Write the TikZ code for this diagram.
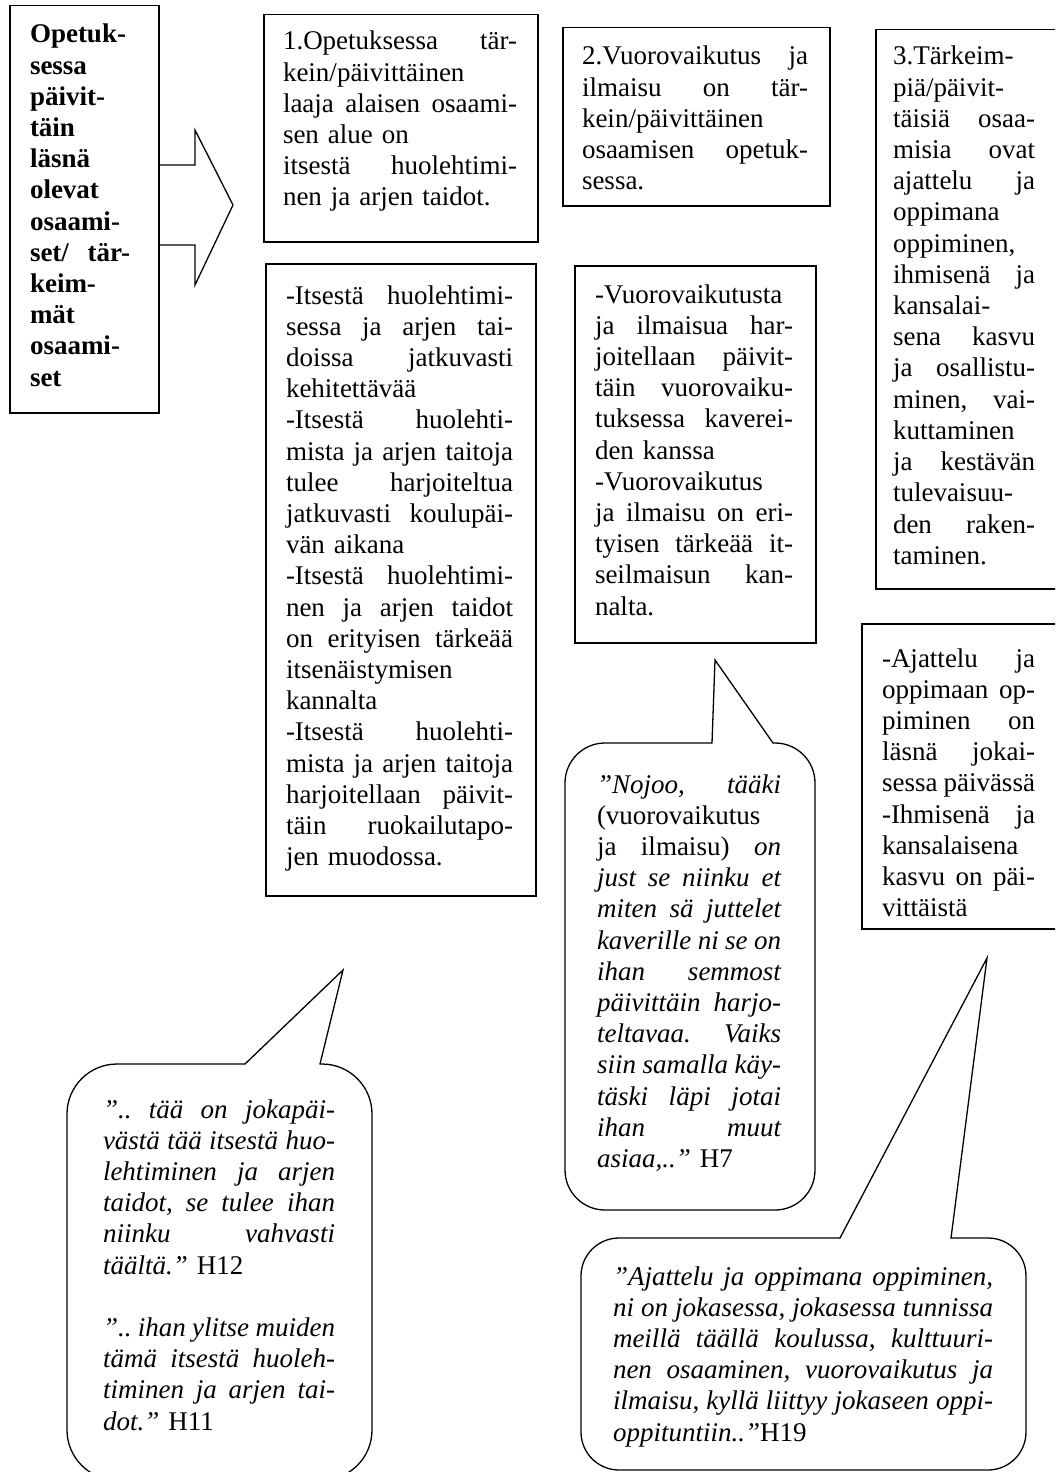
\documentclass[tikz,border=0pt]{standalone}
\usepackage{fontspec}
\setmainfont{Liberation Serif}
\newcommand\fs{\fontsize{27pt}{31.2pt}\selectfont}
\newdimen\TW
\newcommand\Jline[1]{\hbox to\TW{\spaceskip=.25em plus 1fil minus .05em\xspaceskip=\spaceskip #1}}
\newcommand\Lline[1]{\hbox to\TW{#1\hfil}}
\hbadness=10000
\hfuzz=20pt
\frenchspacing
\begin{document}
\begin{tikzpicture}[x=1pt,y=-1pt,
  frame/.style={draw, line width=1.5pt, inner sep=0pt, anchor=north west},
  txt/.style={inner sep=0pt, outer sep=0pt, anchor=base west, font=\fs},
  tw/.style={text width=#1, execute at begin node={\TW=#1\relax\frenchspacing}},
  bubble/.style={draw, line width=1.3pt, line cap=round, line join=miter}]
\useasboundingbox (0,0) rectangle (1055,1472);
\fill[white] (0,0) rectangle (1055,1472);
\clip (0,0) rectangle (1055,1472);

% ---- left bold box with arrow
\node[frame, minimum width=149pt, minimum height=407pt] (mainbox) at (9,5) {};
\node[txt, tw=100pt, font=\fs\bfseries] (maintext) at (30,43) {%
\Lline{Opetuk-}
\Lline{sessa}
\Lline{päivit-}
\Lline{täin}
\Lline{läsnä}
\Lline{olevat}
\Lline{osaami-}
\Jline{set/ tär-}
\Lline{keim-}
\Lline{mät}
\Lline{osaami-}
\Lline{set}};
\coordinate (arrtip) at (233,205);
\draw[line width=1.3pt, line join=miter] (158,165) -- (195,165) -- (195,130) -- (arrtip) -- (195,285) -- (195,245) -- (158,245);

% ---- box 1
\node[frame, minimum width=274pt, minimum height=227pt] (box1) at (263,14) {};
\node[txt, tw=234pt] (text1) at (283,50) {%
\Jline{1.Opetuksessa tär-}
\Lline{kein/päivittäinen}
\Jline{laaja alaisen osaami-}
\Lline{sen alue on}
\Jline{itsestä huolehtimi-}
\Lline{nen ja arjen taidot.}};

% ---- box 2
\node[frame, minimum width=267pt, minimum height=178pt] (box2) at (562,27) {};
\node[txt, tw=226pt] (text2) at (582,65) {%
\Jline{2.Vuorovaikutus ja}
\Jline{ilmaisu on tär-}
\Lline{kein/päivittäinen}
\Jline{osaamisen opetuk-}
\Lline{sessa.}};

% ---- box 3 (cut at right edge)
\node[frame, minimum width=200pt, minimum height=559pt] (box3) at (875,29) {};
\node[txt, tw=142pt] (text3) at (893,65) {%
\Lline{3.Tärkeim-}
\Lline{piä/päivit-}
\Jline{täisiä osaa-}
\Jline{misia ovat}
\Jline{ajattelu ja}
\Lline{oppimana}
\Lline{oppiminen,}
\Jline{ihmisenä ja}
\Lline{kansalai-}
\Jline{sena kasvu}
\Jline{ja osallistu-}
\Jline{minen, vai-}
\Lline{kuttaminen}
\Jline{ja kestävän}
\Lline{tulevaisuu-}
\Jline{den raken-}
\Lline{taminen.}};

% ---- box 4
\node[frame, minimum width=270pt, minimum height=632pt] (box4) at (265,263) {};
\node[txt, tw=227pt] (text4) at (286,304) {%
\Jline{-Itsestä huolehtimi-}
\Jline{sessa ja arjen tai-}
\Jline{doissa jatkuvasti}
\Lline{kehitettävää}
\Jline{-Itsestä huolehti-}
\Jline{mista ja arjen taitoja}
\Jline{tulee harjoiteltua}
\Jline{jatkuvasti koulupäi-}
\Lline{vän aikana}
\Jline{-Itsestä huolehtimi-}
\Jline{nen ja arjen taidot}
\Jline{on erityisen tärkeää}
\Lline{itsenäistymisen}
\Lline{kannalta}
\Jline{-Itsestä huolehti-}
\Jline{mista ja arjen taitoja}
\Jline{harjoitellaan päivit-}
\Jline{täin ruokailutapo-}
\Lline{jen muodossa.}};

% ---- box 5
\node[frame, minimum width=241pt, minimum height=377pt] (box5) at (574,265) {};
\node[txt, tw=198pt] (text5) at (595,303) {%
\Lline{-Vuorovaikutusta}
\Jline{ja ilmaisua har-}
\Jline{joitellaan päivit-}
\Jline{täin vuorovaiku-}
\Jline{tuksessa kaverei-}
\Lline{den kanssa}
\Lline{-Vuorovaikutus}
\Jline{ja ilmaisu on eri-}
\Jline{tyisen tärkeää it-}
\Jline{seilmaisun kan-}
\Lline{nalta.}};

% ---- box 6 (cut at right edge)
\node[frame, minimum width=210pt, minimum height=305pt] (box6) at (861,623) {};
\node[txt, tw=153pt] (text6) at (882,667) {%
\Jline{-Ajattelu ja}
\Jline{oppimaan op-}
\Jline{piminen on}
\Jline{läsnä jokai-}
\Jline{sessa päivässä}
\Jline{-Ihmisenä ja}
\Lline{kansalaisena}
\Jline{kasvu on päi-}
\Lline{vittäistä}};

% ---- callout H7
\coordinate (tip7) at (715,660);
\draw[bubble, rounded corners=40pt] (773,743) -- (815,743) -- (815,1210) -- (565,1210) -- (565,743) -- (712,743);
\draw[bubble] (712,743) -- (tip7) -- (773,743);
\node[txt, tw=184pt, font=\fs\itshape] (quote7) at (597,793) {%
\Jline{”Nojoo, tääki}
\Lline{\textup{(vuorovaikutus}}
\Jline{\textup{ja ilmaisu)} on}
\Jline{just se niinku et}
\Jline{miten sä juttelet}
\Jline{kaverille ni se on}
\Jline{ihan semmost}
\Jline{päivittäin harjo-}
\Jline{teltavaa. Vaiks}
\Jline{siin samalla käy-}
\Jline{täski läpi jotai}
\Jline{ihan muut}
\Lline{asiaa,..” \textup{H7}}};

% ---- callout H12 / H11 (cut at bottom edge)
\coordinate (tip12) at (343,970);
\draw[bubble, rounded corners=50pt] (320,1064) -- (372,1064) -- (372,1480) -- (67,1480) -- (67,1064) -- (245,1064);
\draw[bubble] (245,1064) -- (tip12) -- (320,1064);
\node[txt, tw=232pt, font=\fs\itshape] (quote12) at (103,1118) {%
\Jline{”.. tää on jokapäi-}
\Jline{västä tää itsestä huo-}
\Jline{lehtiminen ja arjen}
\Jline{taidot, se tulee ihan}
\Jline{niinku vahvasti}
\Lline{täältä.” \textup{H12}}
\Lline{}
\Jline{”.. ihan ylitse muiden}
\Jline{tämä itsestä huoleh-}
\Jline{timinen ja arjen tai-}
\Lline{dot.” \textup{H11}}};

% ---- callout H19
\coordinate (tip19) at (987,958);
\draw[bubble, rounded corners=38pt] (951,1238) -- (1026,1238) -- (1026,1470) -- (581,1470) -- (581,1238) -- (840,1238);
\draw[bubble] (840,1238) -- (tip19) -- (951,1238);
\node[txt, tw=380pt, font=\fs\itshape] (quote19) at (613,1285) {%
\Jline{”Ajattelu ja oppimana oppiminen,}
\Jline{ni on jokasessa, jokasessa tunnissa}
\Jline{meillä täällä koulussa, kulttuuri-}
\Jline{nen osaaminen, vuorovaikutus ja}
\Jline{ilmaisu, kyllä liittyy jokaseen oppi-}
\Lline{oppituntiin..”\textup{H19}}};
\end{tikzpicture}
\end{document}
